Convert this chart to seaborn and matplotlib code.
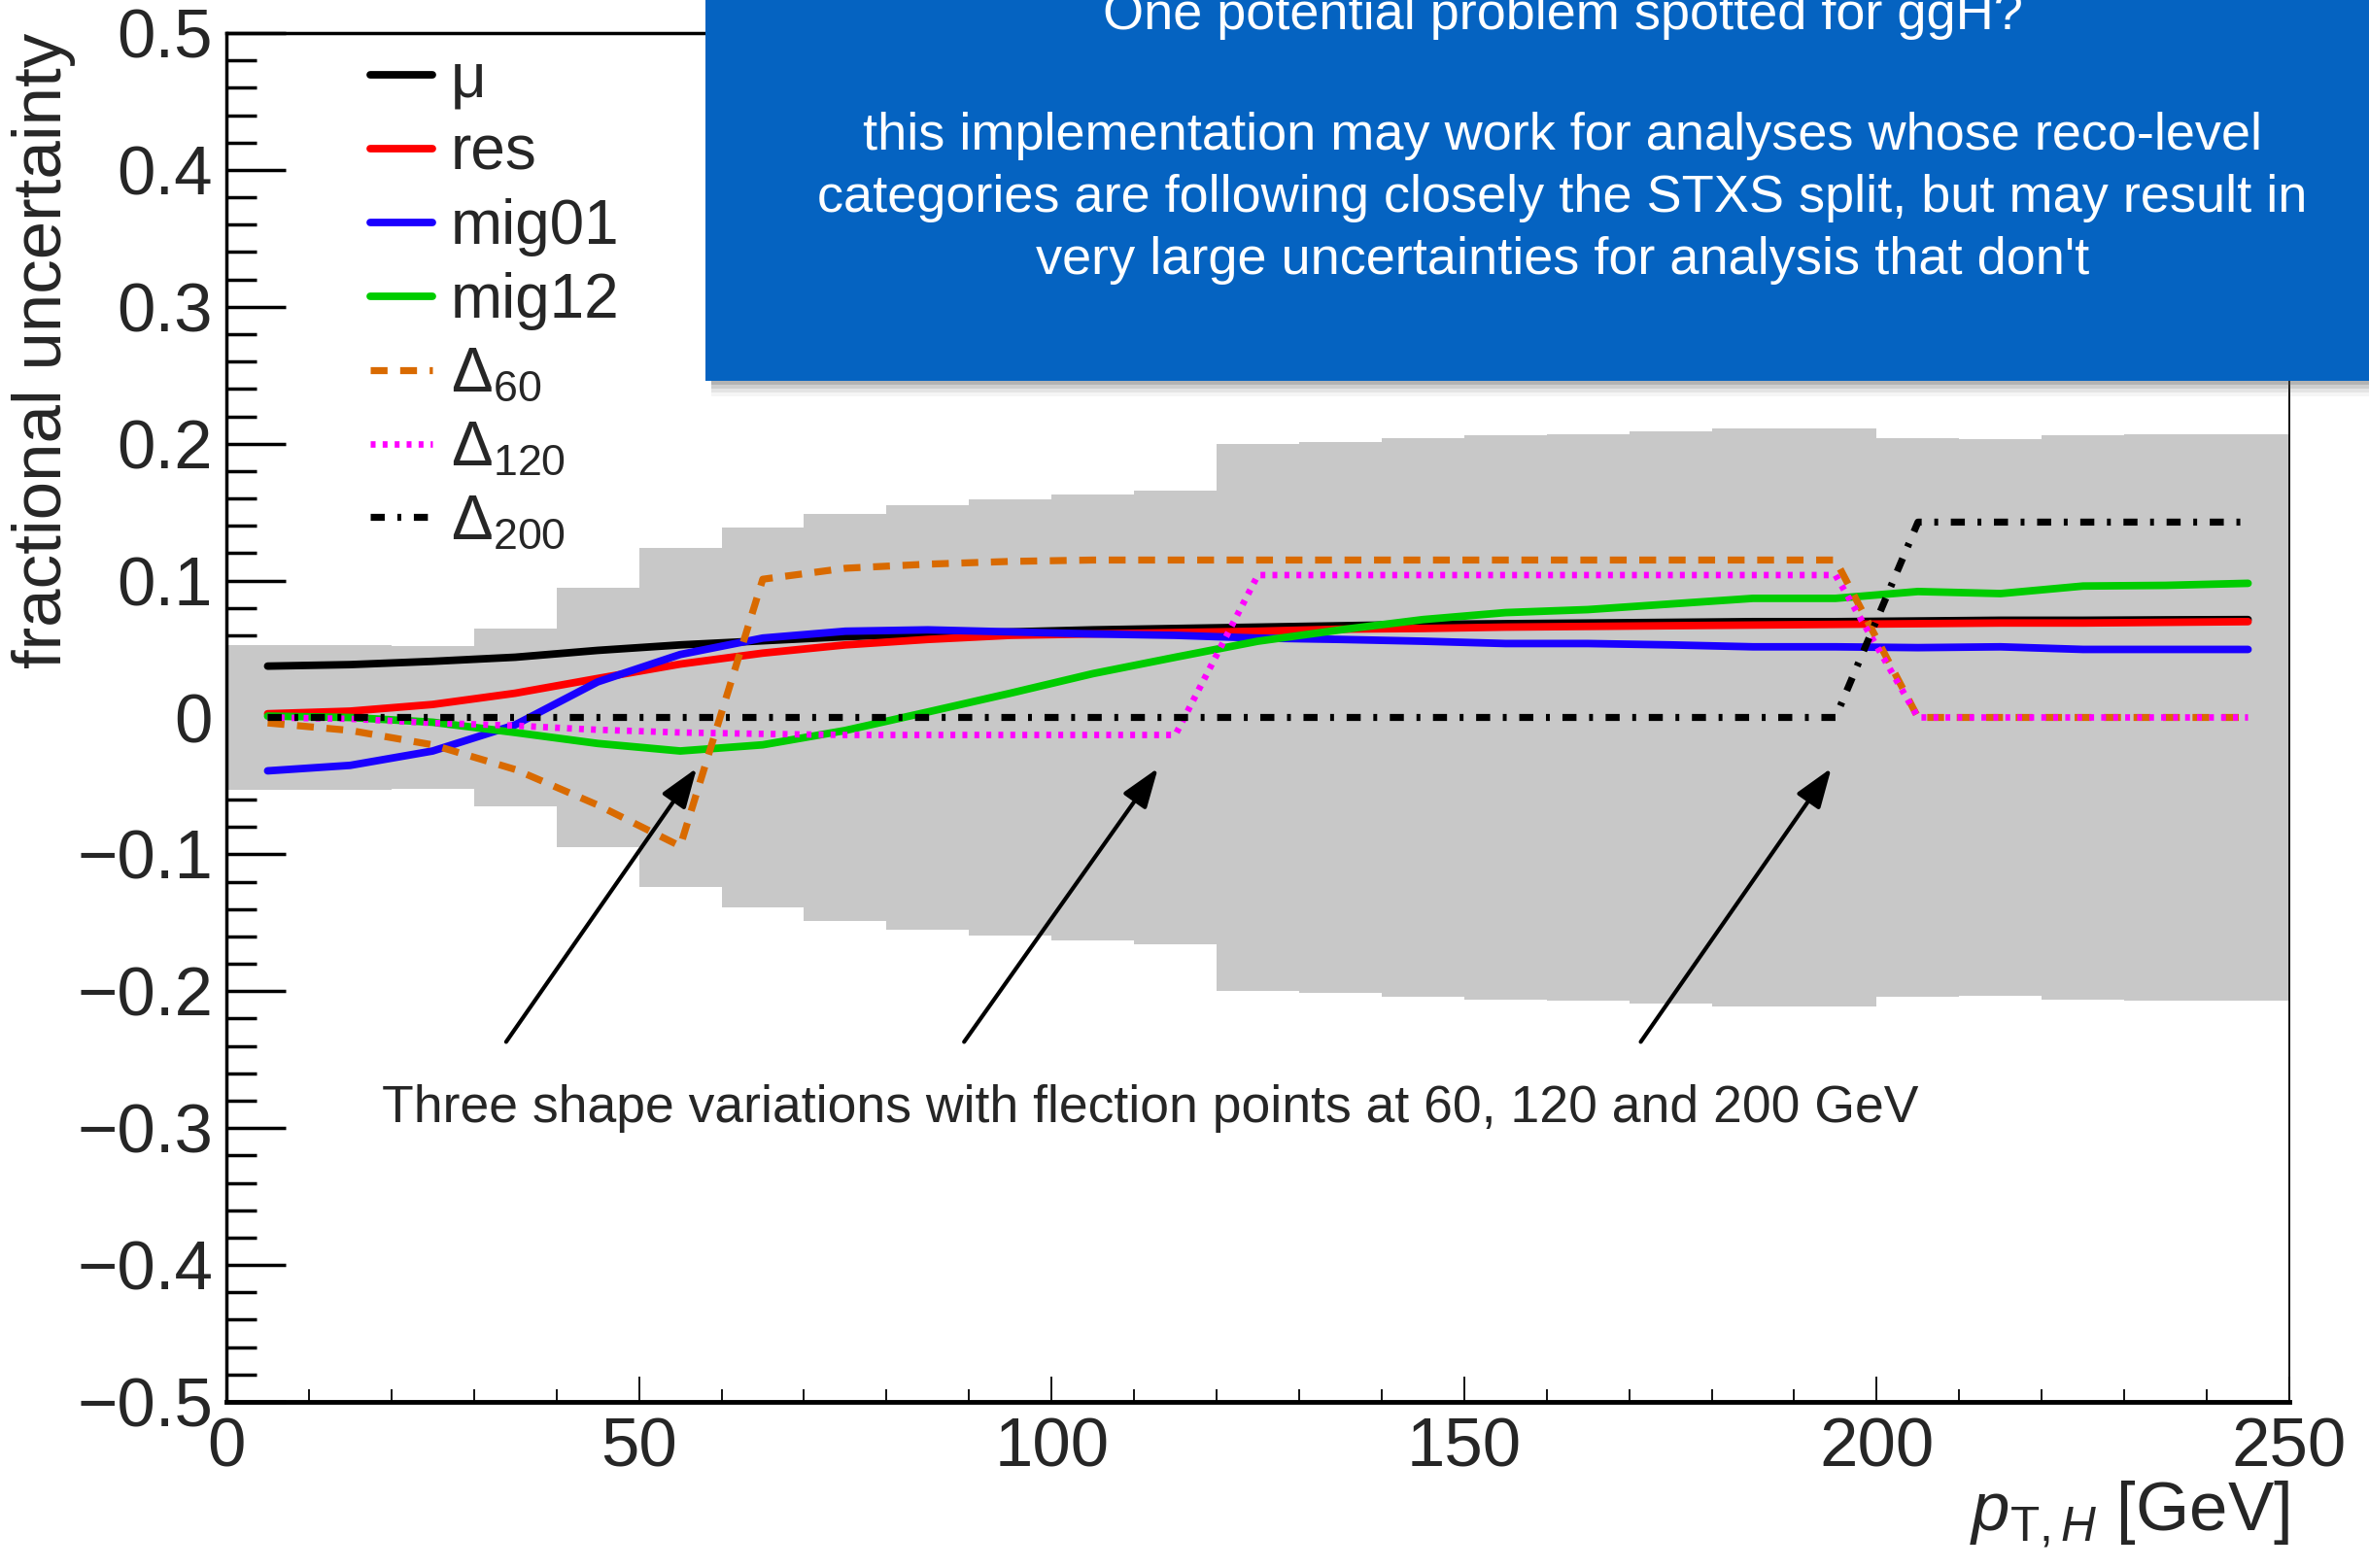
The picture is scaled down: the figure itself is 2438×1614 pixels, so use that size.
import numpy as np
import pandas as pd
import matplotlib
matplotlib.use("Agg")
import matplotlib.pyplot as plt
import seaborn as sns
from matplotlib.patches import Rectangle
from matplotlib.ticker import MultipleLocator, FixedLocator

# ---------------- data ----------------
pt_centers = [5, 15, 25, 35, 45, 55, 65, 75, 85, 95, 105, 115, 125, 135, 145,
              155, 165, 175, 185, 195, 205, 215, 225, 235, 245]
band_halfwidth = [0.053, 0.053, 0.052, 0.065, 0.095, 0.124, 0.139, 0.149, 0.155,
                  0.159, 0.163, 0.166, 0.200, 0.201, 0.204, 0.206, 0.207, 0.209,
                  0.211, 0.211, 0.204, 0.203, 0.206, 0.207, 0.207]
mu = [0.0375, 0.0386, 0.041, 0.044, 0.049, 0.053, 0.056, 0.059, 0.061, 0.0625,
      0.064, 0.065, 0.066, 0.067, 0.068, 0.0685, 0.069, 0.0695, 0.070, 0.070,
      0.0705, 0.071, 0.071, 0.0713, 0.0715]
res = [0.0027, 0.0046, 0.0095, 0.0177, 0.0285, 0.039, 0.047, 0.053, 0.057, 0.060,
       0.061, 0.062, 0.063, 0.0645, 0.065, 0.066, 0.0665, 0.067, 0.0675, 0.068,
       0.0685, 0.069, 0.069, 0.0695, 0.070]
mig01 = [-0.039, -0.035, -0.0245, -0.0054, 0.026, 0.046, 0.058, 0.063, 0.064, 0.0625,
         0.061, 0.060, 0.058, 0.057, 0.0557, 0.054, 0.054, 0.053, 0.0516, 0.0516,
         0.051, 0.0516, 0.0497, 0.0497, 0.0497]
mig12 = [0.001, 0.0, -0.0035, -0.011, -0.019, -0.0245, -0.020, -0.0095, 0.004, 0.0177,
         0.032, 0.044, 0.0557, 0.064, 0.0715, 0.0766, 0.0788, 0.0829, 0.087, 0.087,
         0.092, 0.0905, 0.096, 0.0965, 0.098]
delta60 = [-0.004, -0.0095, -0.020, -0.038, -0.064, -0.094, 0.101, 0.109, 0.112, 0.114,
           0.115, 0.115, 0.115, 0.115, 0.115, 0.115, 0.115, 0.115, 0.115, 0.115,
           0.0, 0.0, 0.0, 0.0, 0.0]
delta120 = [0.0, -0.001, -0.004, -0.006, -0.009, -0.011, -0.012, -0.0128, -0.0128, -0.0128,
            -0.0128, -0.0128, 0.104, 0.104, 0.104, 0.104, 0.104, 0.104, 0.104, 0.104,
            0.0, 0.0, 0.0, 0.0, 0.0]
delta200 = [0.0, 0.0, 0.0, 0.0, 0.0, 0.0, 0.0, 0.0, 0.0, 0.0,
            0.0, 0.0, 0.0, 0.0, 0.0, 0.0, 0.0, 0.0, 0.0, 0.0,
            0.1427, 0.1427, 0.1427, 0.1427, 0.1427]

series_labels = ["\u03bc", "res", "mig01", "mig12",
                 r"$\Delta_{60}$", r"$\Delta_{120}$", r"$\Delta_{200}$"]
xtick_values = [0, 50, 100, 150, 200, 250]
xtick_labels = ["0", "50", "100", "150", "200", "250"]
ytick_values = [0.5, 0.4, 0.3, 0.2, 0.1, 0.0, -0.1, -0.2, -0.3, -0.4, -0.5]
ytick_labels = ["0.5", "0.4", "0.3", "0.2", "0.1", "0",
                "\u22120.1", "\u22120.2", "\u22120.3", "\u22120.4", "\u22120.5"]
annotation_text = "Three shape variations with flection points at 60, 120 and 200 GeV"
arrow_heads = [57.0, 112.9, 194.5]
arrow_tails = [33.9, 89.4, 171.4]
box_lines = ["One potential problem spotted for ggH?",
             "this implementation may work for analyses whose reco-level",
             "categories are following closely the STXS split, but may result in",
             "very large uncertainties for analysis that don't"]

# ---------------- style ----------------
sns.set_theme(style="white")
plt.rcParams['font.family'] = ['Liberation Sans', 'DejaVu Sans']
plt.rcParams['mathtext.fontset'] = 'custom'
plt.rcParams['mathtext.rm'] = 'Liberation Sans'
plt.rcParams['mathtext.it'] = 'Liberation Sans:italic'
plt.rcParams['mathtext.bf'] = 'Liberation Sans:bold'
plt.rcParams['axes.unicode_minus'] = True

fig = plt.figure(figsize=(24.38, 16.14), dpi=100)
ax = fig.add_axes([233 / 2438, 1 - 1443 / 1614, 2123 / 2438, 1409 / 1614])

# uncertainty band
band = np.array(band_halfwidth)
ax.bar(pt_centers, 2 * band, bottom=-band, width=10, color="#c8c8c8",
       linewidth=0, zorder=1)

df = pd.DataFrame({"pt": pt_centers, "mu": mu, "res": res, "mig01": mig01,
                   "mig12": mig12, "d60": delta60, "d120": delta120, "d200": delta200})

lw = 5.6
specs = [
    ("mu", "black", "-", lw),
    ("res", "#ff0000", "-", lw),
    ("mig01", "#1a00ff", "-", lw),
    ("mig12", "#00cc00", "-", lw),
    ("d60", "#d96a00", (0, (2.4, 1.8)), 5.2),
    ("d120", "#ff00ff", (0, (0.75, 1.1)), 4.8),
    ("d200", "black", (0, (2.0, 1.8, 0.55, 1.8)), 5.2),
]
for (col, color, ls, w), lab in zip(specs, series_labels):
    sns.lineplot(data=df, x="pt", y=col, ax=ax, color=color, linestyle=ls,
                 linewidth=w, label=lab, zorder=3)

ax.set_xlim(0, 250)
ax.set_ylim(-0.5, 0.5)
ax.xaxis.set_major_locator(FixedLocator(xtick_values))
ax.set_xticklabels(xtick_labels)
ax.xaxis.set_minor_locator(MultipleLocator(10))
ax.yaxis.set_major_locator(FixedLocator(ytick_values))
ax.set_yticklabels(ytick_labels)
ax.yaxis.set_minor_locator(MultipleLocator(0.02))

ax.tick_params(axis='y', which='major', direction='in', length=44, width=2.5,
               labelsize=51, pad=10, left=True, right=False, color='black')
ax.tick_params(axis='y', which='minor', direction='in', length=22, width=2.5,
               left=True, right=False, color='black')
ax.tick_params(axis='x', which='major', direction='in', length=19, width=1.3,
               labelsize=51, pad=11, bottom=True, top=False, color='black')
ax.tick_params(axis='x', which='minor', direction='in', length=9.5, width=1.3,
               bottom=True, top=False, color='black')

for s, w in [("left", 2.5), ("bottom", 3.5), ("top", 2.5), ("right", 1.3)]:
    ax.spines[s].set_visible(True)
    ax.spines[s].set_color("black")
    ax.spines[s].set_linewidth(w)
    ax.spines[s].set_zorder(5)

ax.set_ylabel("fractional uncertainty", fontsize=51, loc='top')
ax.yaxis.set_label_coords(-0.073, 1.0)
ax.set_xlabel(r"$p_{\mathrm{T},H}$ [GeV]", fontsize=51, loc='right')
ax.xaxis.set_label_coords(1.0, -0.056)

leg = ax.legend(frameon=False, fontsize=46, loc='upper left',
                bbox_to_anchor=(381 / 2438, 1 - 52 / 1614), bbox_transform=fig.transFigure,
                handlelength=1.0, handletextpad=0.3, labelspacing=0.25,
                borderpad=0, borderaxespad=0)

# annotation with arrows
ax.text(111.9, -0.286, annotation_text, fontsize=38.5, ha='center', va='center', zorder=6)
for xh, xt in zip(arrow_heads, arrow_tails):
    ax.annotate("", xy=(xh, -0.037), xytext=(xt, -0.237),
                arrowprops=dict(arrowstyle='-|>,head_length=0.45,head_width=0.16',
                                color='black', lw=3, mutation_scale=55,
                                shrinkA=0, shrinkB=0), zorder=6)

# blue overlay box with shadow
bx0 = 726 / 2438
by0 = 1 - 392 / 1614
for k, a in [(16, 0.06), (12, 0.10), (8, 0.15), (4, 0.22)]:
    fig.patches.append(Rectangle((bx0 + 6 / 2438, by0 - k / 1614), 1.0, 0.4,
                                 transform=fig.transFigure, color="#555555",
                                 alpha=a, zorder=20, linewidth=0))
fig.patches.append(Rectangle((bx0, by0), 1.0, 0.4, transform=fig.transFigure,
                             color="#0563C1", zorder=21, linewidth=0))
ys = [1 - 16 / 1614, 1 - 140 / 1614, 1 - 204 / 1614, 1 - 268 / 1614]
for t, y in zip(box_lines, ys):
    fig.text(1608 / 2438, y, t, color='white', fontsize=39, ha='center', va='center',
             zorder=22)

fig.savefig("out.png", dpi=100)
